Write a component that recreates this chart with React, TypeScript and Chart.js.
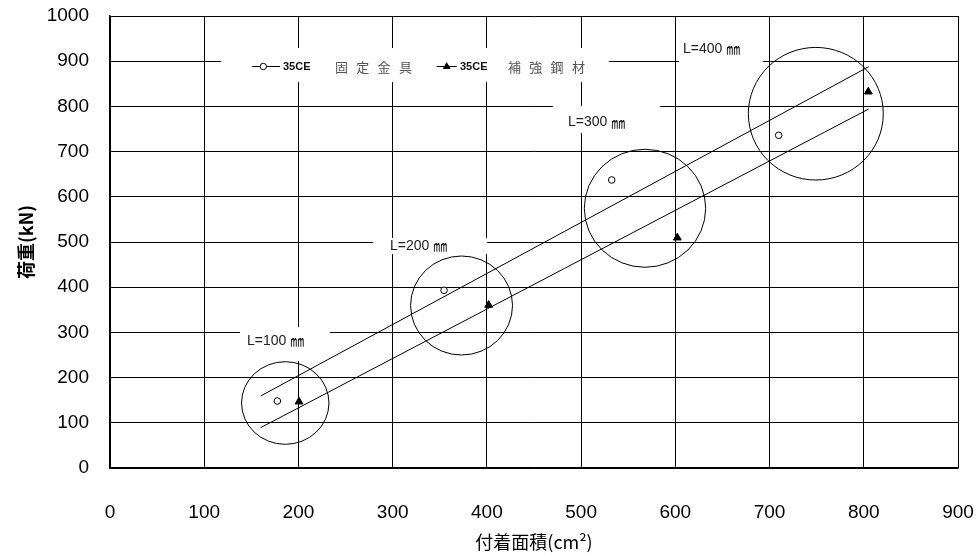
import React, { useEffect, useRef } from "react";
import { Chart, registerables } from "chart.js";

Chart.register(...registerables);

// ---- data ----
const xTickValues = [0, 100, 200, 300, 400, 500, 600, 700, 800, 900];
const yTickValues = [0, 100, 200, 300, 400, 500, 600, 700, 800, 900, 1000];

const fixtureLabel = "35CE 固定金具";
const fixtureX = [177.6, 354.5, 532.5, 709.7];
const fixtureY = [148.2, 393.1, 637.2, 736.1];

const steelLabel = "35CE 補強鋼材";
const steelX = [200.6, 401.9, 602.1, 804.8];
const steelY = [146.7, 360.6, 509.5, 832.5];

const upperLineX = [159.9, 805.2];
const upperLineY = [159.3, 887.8];
const lowerLineX = [159.9, 805.2];
const lowerLineY = [89.2, 794.2];

const groupLabels = ["L=100 ㎜", "L=200 ㎜", "L=300 ㎜", "L=400 ㎜"];
const groupCx = [186.0, 373.1, 567.8, 749.1];
const groupCy = [143.8, 359.5, 574.6, 783.8];
const groupRx = [46.4, 54.1, 64.4, 71.6];
const groupRy = [91.4, 109.5, 130.5, 146.7];

const xTitle = "付着面積(cm²)";
const yTitle = "荷重(kN)";

// ---- annotation layout (data units) ----
const labelAnchors = [
  { x: 145.4, y: 281 },
  { x: 297.2, y: 491 },
  { x: 486.1, y: 764.4 },
  { x: 608.2, y: 927 },
];
const labelBoxes = [
  { x1: 138, x2: 233.5, y1: 312, y2: 236.7 },
  { x1: 279.1, x2: 400.1, y1: 508.8, y2: 473.5 },
  { x1: 470.2, x2: 583.7, y1: 800.9, y2: 741.2 },
  { x1: 604, x2: 693, y1: 955.8, y2: 889.4 },
];
const legendBox = { x1: 117.8, x2: 529.6, y1: 929.2, y2: 854 };

const pts = (xs: number[], ys: number[]) => xs.map((x, i) => ({ x, y: ys[i] }));

const annotationPlugin = {
  id: "annotations",
  beforeDatasetsDraw(chart: any) {
    const { ctx, scales } = chart;
    const xs = scales.x, ys = scales.y;
    ctx.save();
    ctx.fillStyle = "#ffffff";
    const boxes = [...labelBoxes, legendBox];
    for (const b of boxes) {
      const l = Math.round(xs.getPixelForValue(b.x1));
      const r = Math.round(xs.getPixelForValue(b.x2));
      const t = Math.round(ys.getPixelForValue(b.y1));
      const bt = Math.round(ys.getPixelForValue(b.y2));
      ctx.fillRect(l, t, r - l, bt - t);
    }
    ctx.restore();
  },
  afterDatasetsDraw(chart: any) {
    const { ctx, scales } = chart;
    const xs = scales.x, ys = scales.y;
    ctx.save();
    // ellipses
    ctx.strokeStyle = "#000";
    ctx.lineWidth = 1;
    for (let i = 0; i < groupCx.length; i++) {
      const cx = xs.getPixelForValue(groupCx[i]);
      const cy = ys.getPixelForValue(groupCy[i]);
      const rx = xs.getPixelForValue(groupCx[i] + groupRx[i]) - cx;
      const ry = cy - ys.getPixelForValue(groupCy[i] + groupRy[i]);
      ctx.beginPath();
      ctx.ellipse(cx, cy, rx, ry, 0, 0, Math.PI * 2);
      ctx.stroke();
    }
    // group labels
    ctx.fillStyle = "#222";
    ctx.textBaseline = "middle";
    ctx.textAlign = "left";
    for (let i = 0; i < groupLabels.length; i++) {
      const x = xs.getPixelForValue(labelAnchors[i].x);
      const y = ys.getPixelForValue(labelAnchors[i].y);
      const [head, unit] = groupLabels[i].split(" ");
      ctx.font = "14px 'Liberation Sans', Arial, sans-serif";
      ctx.fillText(head, x, y);
      const w = ctx.measureText(head + " ").width;
      ctx.font = "14px 'Noto Sans CJK JP', sans-serif";
      ctx.fillText(unit, x + w, y);
    }
    // legend
    const lx = Math.round(xs.getPixelForValue(legendBox.x1));
    const ly = Math.round(ys.getPixelForValue(legendBox.y1)) + 18;
    const drawItem = (label: string, l0: number, l1: number, mk: number, tx: number, jx: number, triangle: boolean) => {
      ctx.strokeStyle = "#000";
      ctx.lineWidth = 1;
      ctx.beginPath();
      ctx.moveTo(lx + l0, ly + 0.5);
      ctx.lineTo(lx + l1, ly + 0.5);
      ctx.stroke();
      if (triangle) {
        ctx.fillStyle = "#000";
        ctx.beginPath();
        ctx.moveTo(lx + mk, ly - 4);
        ctx.lineTo(lx + mk + 4, ly + 3);
        ctx.lineTo(lx + mk - 4, ly + 3);
        ctx.closePath();
        ctx.fill();
      } else {
        ctx.fillStyle = "#fff";
        ctx.beginPath();
        ctx.arc(lx + mk, ly + 0.5, 3.2, 0, Math.PI * 2);
        ctx.fill();
        ctx.stroke();
      }
      const [code, name] = label.split(" ");
      ctx.fillStyle = "#111";
      ctx.font = "bold 11px 'Liberation Sans', Arial, sans-serif";
      ctx.textBaseline = "middle";
      ctx.fillText(code, lx + tx, ly + 1);
      ctx.fillStyle = "#555";
      ctx.font = "13px 'Noto Sans CJK JP', sans-serif";
      const chars = Array.from(name);
      chars.forEach((c, k) => ctx.fillText(c, lx + jx + k * 21.3, ly + 1));
    };
    drawItem(fixtureLabel, 31, 59, 42.3, 62, 114, false);
    drawItem(steelLabel, 215.7, 235.7, 225.7, 239, 287, true);
    ctx.restore();
  },
};

export default function App() {
  const ref = useRef<HTMLCanvasElement | null>(null);
  useEffect(() => {
    document.body.style.margin = "0";
    if (!ref.current) return;
    const tickFont = { family: "'Liberation Sans', Arial, sans-serif", size: 19 };
    const chart = new Chart(ref.current, {
      type: "scatter",
      data: {
        datasets: [
          {
            label: fixtureLabel,
            data: pts(fixtureX, fixtureY),
            pointStyle: "circle",
            pointRadius: 3.3,
            borderColor: "#000",
            backgroundColor: "#fff",
            borderWidth: 1,
          },
          {
            label: steelLabel,
            data: pts(steelX, steelY),
            pointStyle: "triangle",
            pointRadius: 4.5,
            borderColor: "#000",
            backgroundColor: "#000",
            borderWidth: 1,
          },
          {
            label: "upper",
            data: pts(upperLineX, upperLineY),
            showLine: true,
            pointRadius: 0,
            borderColor: "#000",
            borderWidth: 1,
          },
          {
            label: "lower",
            data: pts(lowerLineX, lowerLineY),
            showLine: true,
            pointRadius: 0,
            borderColor: "#000",
            borderWidth: 1,
          },
        ],
      } as any,
      options: {
        responsive: false,
        animation: false,
        layout: { padding: { top: 16, right: 21, left: 0, bottom: 0 } },
        plugins: { legend: { display: false }, tooltip: { enabled: false } },
        scales: {
          x: {
            type: "linear",
            min: 0,
            max: 900,
            afterBuildTicks: (s: any) => {
              s.ticks = xTickValues.map((v) => ({ value: v }));
            },
            afterFit: (s: any) => {
              s.height = 87;
              s.paddingLeft = 0;
              s.paddingRight = 0;
            },
            grid: { color: "#000", lineWidth: 1, drawTicks: false },
            border: { color: "#000", width: 1.5 },
            ticks: {
              color: "#000",
              font: tickFont,
              padding: 33,
              maxRotation: 0,
              autoSkip: false,
              callback: (v: any) => String(v),
            },
            title: {
              display: true,
              text: xTitle,
              color: "#000",
              font: { family: "'Noto Sans CJK JP', sans-serif", size: 18 },
              padding: { top: 0, bottom: 2 },
            },
          },
          y: {
            type: "linear",
            min: 0,
            max: 1000,
            afterBuildTicks: (s: any) => {
              s.ticks = yTickValues.map((v) => ({ value: v }));
            },
            afterFit: (s: any) => {
              s.width = 110;
              s.paddingTop = 0;
              s.paddingBottom = 0;
            },
            grid: { color: "#000", lineWidth: 1, drawTicks: false },
            border: { color: "#000", width: 1.5 },
            ticks: {
              color: "#000",
              font: tickFont,
              padding: 21,
              autoSkip: false,
              callback: (v: any) => String(v),
            },
            title: {
              display: true,
              text: yTitle,
              color: "#000",
              font: { family: "'Noto Sans CJK JP', sans-serif", size: 18, weight: "bold" },
              padding: { top: 15, bottom: 0 },
            },
          },
        },
      } as any,
      plugins: [annotationPlugin],
    });
    return () => chart.destroy();
  }, []);
  return <canvas ref={ref} width={979} height={555} style={{ display: "block" }} />;
}
